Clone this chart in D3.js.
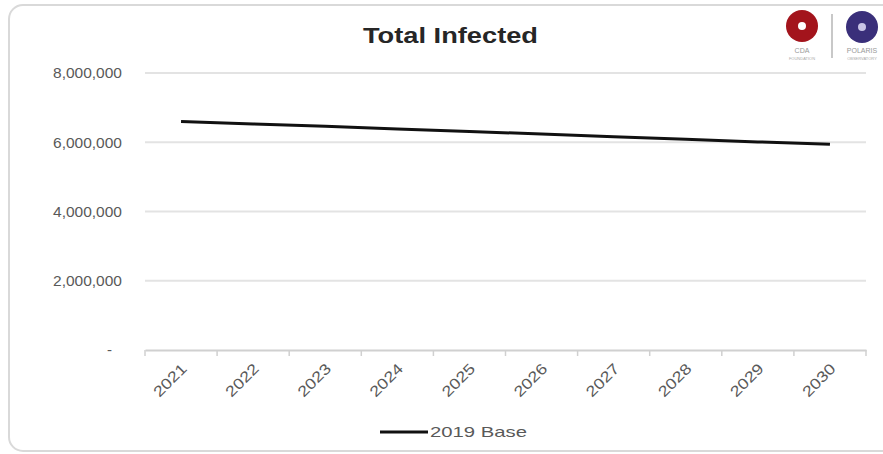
<!DOCTYPE html>
<html><head><meta charset="utf-8">
<script src="https://cdn.jsdelivr.net/npm/d3@7"></script>
<style>body{margin:0;background:#fff}svg{display:block}</style>
</head><body>
<script>
const years = ["2021","2022","2023","2024","2025","2026","2027","2028","2029","2030"];
const base2019 = [6600000,6530000,6460000,6380000,6310000,6240000,6160000,6090000,6010000,5940000];
const yTicks = [0,2000000,4000000,6000000,8000000];
const seriesName = "2019 Base";
const title = "Total Infected";

const W=883,H=454;
const svg=d3.select("body").append("svg").attr("width",W).attr("height",H);
svg.append("rect").attr("x",9).attr("y",5).attr("width",890).attr("height",446)
  .attr("rx",14).attr("fill","#fff").attr("stroke","#d9d9d9").attr("stroke-width",2);

const m={l:145,r:866,t:73,b:350};
const x=d3.scaleBand().domain(years).range([m.l,m.r]);
const y=d3.scaleLinear().domain([0,8000000]).range([m.b,m.t]);
const font="Liberation Sans, Arial, sans-serif";

// grid
svg.append("g").selectAll("line").data(yTicks.filter(d=>d>0)).join("line")
  .attr("x1",m.l).attr("x2",m.r).attr("y1",d=>y(d)).attr("y2",d=>y(d))
  .attr("stroke","#e3e3e3").attr("stroke-width",2);

// y labels
svg.append("g").selectAll("text").data(yTicks).join("text")
  .attr("x",d=>d===0?112:122).attr("y",d=>y(d)).attr("dy","0.35em")
  .attr("text-anchor","end").attr("font-family",font).attr("font-size",15)
  .attr("fill","#595959")
  .each(function(d){ if(d>0) d3.select(this).attr("textLength",69).attr("lengthAdjust","spacingAndGlyphs"); })
  .text(d=>d===0?"-":d3.format(",")(d));

// x axis
const xa=svg.append("g").attr("transform",`translate(0,${m.b})`)
  .call(d3.axisBottom(x).tickSize(0).tickFormat(""));
xa.select(".domain").attr("stroke","#d0d0d0").attr("stroke-width",2);
svg.append("g").selectAll("line").data(years.concat(["end"])).join("line")
  .attr("x1",(d,i)=>i<years.length?x(d):m.r).attr("x2",(d,i)=>i<years.length?x(d):m.r)
  .attr("y1",m.b).attr("y2",m.b+6).attr("stroke","#d0d0d0").attr("stroke-width",1.5);
svg.append("g").selectAll("text").data(years).join("text")
  .attr("transform",d=>`translate(${x(d)+x.bandwidth()/2+3},${m.b+16}) rotate(-45)`)
  .attr("text-anchor","end").attr("dy","0.35em").attr("font-family",font).attr("font-size",15)
  .attr("textLength",40).attr("lengthAdjust","spacingAndGlyphs")
  .attr("fill","#595959").text(d=>d);

// line
const line=d3.line().x((d,i)=>x(years[i])+x.bandwidth()/2).y(d=>y(d));
svg.append("path").datum(base2019).attr("d",line).attr("fill","none")
  .attr("stroke","#111").attr("stroke-width",3);

// title
svg.append("text").attr("x",363).attr("y",43)
  .attr("font-family",font).attr("font-weight","bold").attr("font-size",22)
  .attr("textLength",175).attr("lengthAdjust","spacingAndGlyphs")
  .attr("fill","#262626").text(title);

// legend
svg.append("line").attr("x1",380).attr("x2",428).attr("y1",432).attr("y2",432)
  .attr("stroke","#111").attr("stroke-width",3);
svg.append("text").attr("x",430).attr("y",432).attr("dy","0.35em")
  .attr("font-family",font).attr("font-size",15).attr("fill","#595959")
  .attr("textLength",97).attr("lengthAdjust","spacingAndGlyphs").text(seriesName);

// logos
const lg=svg.append("g");
lg.append("circle").attr("cx",802).attr("cy",26).attr("r",16).attr("fill","#a3141c");
lg.append("circle").attr("cx",802).attr("cy",26).attr("r",4).attr("fill","#fff");
lg.append("text").attr("x",802).attr("y",53).attr("text-anchor","middle").attr("font-family",font)
  .attr("font-size",7).attr("fill","#999").text("CDA");
lg.append("text").attr("x",802).attr("y",60).attr("text-anchor","middle").attr("font-family",font)
  .attr("font-size",4).attr("fill","#aaa").text("FOUNDATION");
lg.append("line").attr("x1",832).attr("x2",832).attr("y1",14).attr("y2",58).attr("stroke","#c8c8c8").attr("stroke-width",2);
lg.append("circle").attr("cx",862).attr("cy",27).attr("r",16).attr("fill","#3a2f7a");
lg.append("circle").attr("cx",862).attr("cy",27).attr("r",4).attr("fill","#c9c4e6");
lg.append("text").attr("x",862).attr("y",53).attr("text-anchor","middle").attr("font-family",font)
  .attr("font-size",7).attr("fill","#999").text("POLARIS");
lg.append("text").attr("x",862).attr("y",60).attr("text-anchor","middle").attr("font-family",font)
  .attr("font-size",4).attr("fill","#aaa").text("OBSERVATORY");
</script>
</body></html>
